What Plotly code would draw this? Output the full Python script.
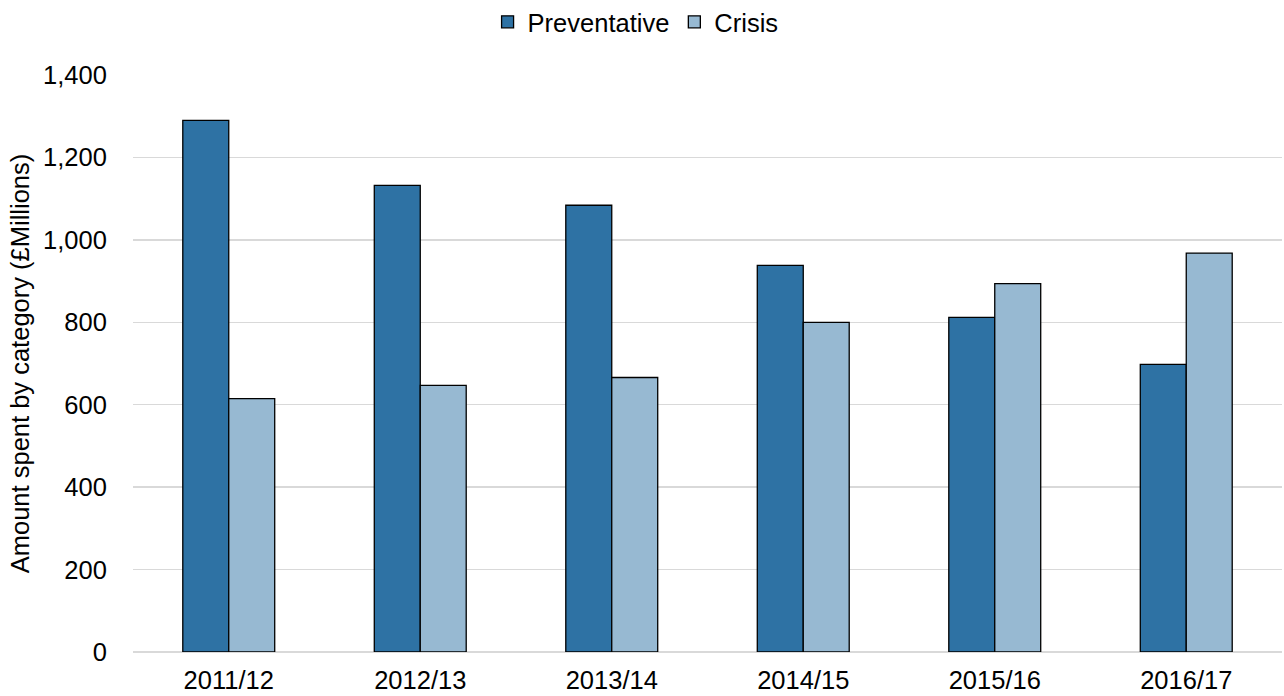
import plotly.graph_objects as go

categories = ["2011/12", "2012/13", "2013/14", "2014/15", "2015/16", "2016/17"]
preventative = [1290, 1132, 1084, 938, 812, 698]
crisis = [615, 647, 666, 800, 894, 968]
y_ticks = [0, 200, 400, 600, 800, 1000, 1200, 1400]
y_tick_labels = ["0", "200", "400", "600", "800", "1,000", "1,200", "1,400"]

FONT = "Liberation Sans, Arial, sans-serif"
FS = 25.5

fig = go.Figure()
fig.add_trace(go.Bar(x=categories, y=preventative, name="Preventative",
                     marker=dict(color="#2E72A4", line=dict(color="#000000", width=1.3))))
fig.add_trace(go.Bar(x=categories, y=crisis, name="Crisis",
                     marker=dict(color="#97B9D2", line=dict(color="#000000", width=1.3))))

fig.update_layout(
    width=1284, height=696,
    margin=dict(l=133, r=2, t=75, b=44, autoexpand=False),
    paper_bgcolor="white", plot_bgcolor="white",
    font=dict(family=FONT, size=FS, color="#000000"),
    barmode="group", bargap=0.52, bargroupgap=0,
    showlegend=True,
    legend=dict(orientation="h", x=0.495, xref="container", xanchor="center",
                y=0.968, yref="container", yanchor="middle",
                font=dict(size=FS), traceorder="normal",
                itemwidth=30, tracegroupgap=0),
    xaxis=dict(showgrid=False, showline=False, ticks="outside", ticklen=5,
               tickcolor="rgba(0,0,0,0)", tickfont=dict(size=FS), automargin=False),
    yaxis=dict(range=[0, 1400], tickvals=y_ticks, ticktext=y_tick_labels,
               showgrid=True, gridcolor="#D9D9D9", gridwidth=1.5,
               zeroline=True, zerolinecolor="#D9D9D9", zerolinewidth=1.5,
               showline=False, ticks="outside", ticklen=20, tickcolor="rgba(0,0,0,0)",
               tickfont=dict(size=FS), automargin=False,
               title=dict(text="Amount spent by category (£Millions)", font=dict(size=FS), standoff=6)),
)

fig.write_html("out.html", config={"displayModeBar": False, "staticPlot": True},
               post_script="document.body.style.margin='0';document.body.style.overflow='hidden';")
